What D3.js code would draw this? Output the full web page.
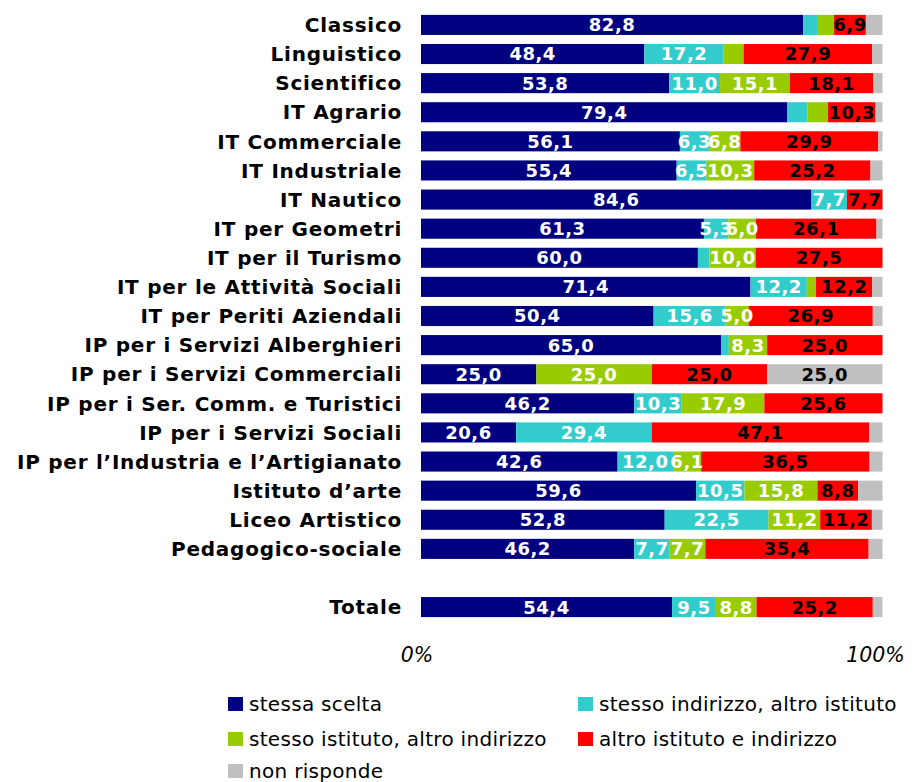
<!DOCTYPE html>
<html>
<head>
<meta charset="utf-8">
<script src="https://cdn.jsdelivr.net/npm/d3@7"></script>
<style>
  body { margin: 0; background: #fff; }
  svg { display: block; }
</style>
</head>
<body>
<svg id="chart" width="914" height="782"></svg>
<script>
// categories, blank row separates the total
let categories = ["Classico", "Linguistico", "Scientifico", "IT Agrario", "IT Commerciale",
  "IT Industriale", "IT Nautico", "IT per Geometri", "IT per il Turismo",
  "IT per le Attività Sociali", "IT per Periti Aziendali", "IP per i Servizi Alberghieri",
  "IP per i Servizi Commerciali", "IP per i Ser. Comm. e Turistici", "IP per i Servizi Sociali",
  "IP per l’Industria e l’Artigianato", "Istituto d’arte", "Liceo Artistico",
  "Pedagogico-sociale", "", "Totale"];

let seriesNames = ["stessa scelta", "stesso indirizzo, altro istituto",
  "stesso istituto, altro indirizzo", "altro istituto e indirizzo", "non risponde"];

let stessaScelta   = [82.8, 48.4, 53.8, 79.4, 56.1, 55.4, 84.6, 61.3, 60.0, 71.4, 50.4, 65.0, 25.0, 46.2, 20.6, 42.6, 59.6, 52.8, 46.2, null, 54.4];
let stessoIndirizzo = [3.2, 17.2, 11.0, 4.3, 6.3, 6.5, 7.7, 5.3, 2.5, 12.2, 15.6, 1.7, 0, 10.3, 29.4, 12.0, 10.5, 22.5, 7.7, null, 9.5];
let stessoIstituto = [3.5, 4.3, 15.1, 4.5, 6.8, 10.3, 0, 6.0, 10.0, 2.0, 5.0, 8.3, 25.0, 17.9, 0, 6.1, 15.8, 11.2, 7.7, null, 8.8];
let altroIstituto  = [6.9, 27.9, 18.1, 10.3, 29.9, 25.2, 7.7, 26.1, 27.5, 12.2, 26.9, 25.0, 25.0, 25.6, 47.1, 36.5, 8.8, 11.2, 35.4, null, 25.2];
let nonRisponde    = [3.6, 2.2, 2.0, 1.5, 0.9, 2.6, 0, 1.3, 0, 2.2, 2.1, 0, 25.0, 0, 2.9, 2.8, 5.3, 2.3, 3.0, null, 2.1];

let axisTicks = [0, 100];

let colors = ["#000080", "#33CCCC", "#99CC00", "#FF0000", "#C0C0C0"];
let labelColors = ["#fff", "#fff", "#fff", "#000", "#000"];

let series = [stessaScelta, stessoIndirizzo, stessoIstituto, altroIstituto, nonRisponde];

let svg = d3.select("#chart");

let x = d3.scaleLinear().domain([0, 100]).range([421, 882.5]);
let y = d3.scaleBand().domain(d3.range(categories.length)).range([10.5, 621.5]).paddingInner(0.31).paddingOuter(0.15);

// rows of stacked segments
let rows = categories.map(function (c, i) {
  let acc = 0;
  if (stessaScelta[i] == null) return [];
  return series.map(function (s, k) {
    let seg = {row: i, k: k, v: s[i], x0: acc};
    acc += s[i];
    seg.x1 = acc;
    return seg;
  });
});
let segs = rows.flat().filter((d) => d.v > 0);

svg.append("g").selectAll("rect")
  .data(segs)
  .enter().append("rect")
  .attr("x", (d) => x(d.x0))
  .attr("y", (d) => y(d.row))
  .attr("width", (d) => x(d.x1) - x(d.x0))
  .attr("height", y.bandwidth())
  .attr("fill", (d) => colors[d.k]);

function showLabel(d) {
  if (d.k == 4) return d.v >= 10;
  return d.v >= 5;
}

svg.append("g").selectAll("text")
  .data(segs.filter(showLabel))
  .enter().append("text")
  .attr("x", (d) => (x(d.x0) + x(d.x1)) / 2)
  .attr("y", (d) => y(d.row) + y.bandwidth() / 2)
  .attr("dy", "0.36em")
  .attr("text-anchor", "middle")
  .style("font-family", "Verdana, 'DejaVu Sans', sans-serif")
  .style("font-weight", "bold")
  .style("font-size", "18px")
  .style("letter-spacing", "0.5px")
  .attr("fill", (d) => labelColors[d.k])
  .text((d) => d.v.toFixed(1).replace(".", ","));

// category labels
svg.append("g").selectAll("text")
  .data(categories)
  .enter().append("text")
  .attr("x", 402)
  .attr("y", (d, i) => y(i) + y.bandwidth() / 2)
  .attr("dy", "0.36em")
  .attr("text-anchor", "end")
  .style("font-family", "Verdana, 'DejaVu Sans', sans-serif")
  .style("font-weight", "bold")
  .style("font-size", "20px")
  .style("letter-spacing", "0.75px")
  .attr("fill", "#000")
  .text((d) => d);

// axis tick labels
svg.append("g").selectAll("text")
  .data(axisTicks)
  .enter().append("text")
  .attr("x", (d) => x(d) - (d == 100 ? 7 : 4))
  .attr("y", 662)
  .attr("text-anchor", "middle")
  .style("font-family", "'DejaVu Sans', sans-serif")
  .style("font-style", "italic")
  .style("font-size", "20.5px")
  .attr("fill", "#000")
  .text((d) => d + "%");

// legend
let legendPos = [[228, 704], [578, 704], [228, 739], [578, 739], [228, 771]];
let legend = svg.append("g").selectAll("g")
  .data(seriesNames)
  .enter().append("g")
  .attr("transform", (d, i) => "translate(" + legendPos[i][0] + "," + legendPos[i][1] + ")");

legend.append("rect")
  .attr("x", 0)
  .attr("y", -7)
  .attr("width", 15)
  .attr("height", 14)
  .attr("fill", (d, i) => colors[i]);

legend.append("text")
  .attr("x", 21)
  .attr("y", 0)
  .attr("dy", "0.34em")
  .style("font-family", "'DejaVu Sans', sans-serif")
  .style("font-size", "20px")
  .style("letter-spacing", "0.3px")
  .attr("fill", "#000")
  .text((d) => d);
</script>
</body>
</html>
